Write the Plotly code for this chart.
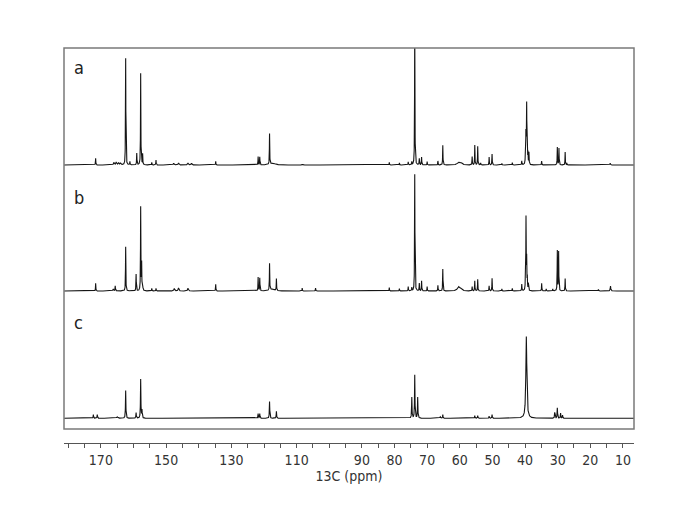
import numpy as np
import plotly.graph_objects as go

# ---- data: 13C NMR peak tables (ppm, relative intensity, linewidth ppm)
A_PPM = [171.6, 166.0, 165.3, 164.6, 164.0, 162.4, 161.1, 159.0, 157.8, 157.2, 154.4, 153.1,
         147.7, 146.2, 143.3, 142.2, 134.8, 121.8, 121.3, 118.3, 117.3, 108.3,
         81.6, 78.5, 75.8, 74.7, 73.8, 72.4, 71.7, 70.0, 66.7, 65.2, 60.4, 59.6, 56.2, 55.4,
         54.5, 53.6, 51.0, 50.1, 47.1, 43.9, 41.0, 39.9, 39.7, 39.5, 39.3, 39.1, 38.8,
         34.9, 30.1, 29.6, 27.7, 27.2, 13.9]
A_INT = [6.7, 2.5, 2.7, 2.2, 2.0, 106.7, 3.3, 11.7, 91.7, 10.7, 2.7, 5.0,
         1.8, 2.0, 2.0, 1.8, 3.7, 8.3, 8.0, 30.7, 2.0, 1.0,
         2.7, 2.0, 3.0, 3.0, 140.0, 6.3, 7.7, 3.3, 4.0, 19.7, 2.5, 2.0, 8.3, 19.7,
         18.7, 2.0, 8.0, 11.0, 1.5, 2.3, 4.0, 8.0, 45.0, 58.0, 16.0, 11.0, 12.0,
         4.0, 17.7, 16.7, 13.0, 2.0, 1.7]
A_WID = [0.12, 0.3, 0.3, 0.3, 0.3, 0.12, 0.12, 0.12, 0.12, 0.12, 0.12, 0.12,
         0.3, 0.3, 0.3, 0.3, 0.12, 0.12, 0.12, 0.12, 1.5, 0.3,
         0.12, 0.12, 0.12, 0.12, 0.12, 0.12, 0.12, 0.12, 0.12, 0.12, 0.8, 0.8, 0.12, 0.12,
         0.12, 0.12, 0.12, 0.12, 0.12, 0.12, 0.12, 0.12, 0.12, 0.12, 0.12, 0.12, 0.12,
         0.12, 0.12, 0.12, 0.12, 0.12, 0.2]

B_PPM = [171.6, 166.2, 165.6, 162.4, 159.2, 157.8, 157.5, 157.2, 154.4, 153.1, 147.5, 146.2,
         143.3, 134.8, 121.8, 121.3, 118.3, 117.5, 116.2, 108.3, 104.2,
         81.6, 78.5, 75.8, 74.7, 73.8, 72.4, 71.7, 70.0, 66.7, 65.2, 60.4, 59.6, 56.2, 55.4,
         54.5, 51.0, 50.1, 47.1, 43.9, 41.0, 39.9, 39.7, 39.5, 39.3, 39.0,
         34.9, 33.5, 31.5, 30.1, 29.7, 27.7, 17.5, 13.8]
B_INT = [7.7, 2.0, 5.0, 44.3, 16.7, 83.7, 27.0, 7.7, 2.7, 2.7, 2.5, 3.0,
         2.7, 6.7, 13.7, 13.0, 26.7, 2.0, 12.0, 3.0, 3.0,
         3.3, 2.3, 4.3, 3.3, 116.7, 7.7, 10.0, 4.3, 5.7, 22.0, 4.0, 2.0, 4.3, 10.0,
         11.7, 5.0, 12.7, 2.0, 2.7, 6.7, 8.0, 72.0, 30.0, 12.0, 7.0,
         7.7, 2.0, 2.0, 40.0, 39.0, 12.3, 1.5, 5.0]
B_WID = [0.12, 0.3, 0.12, 0.12, 0.12, 0.12, 0.12, 0.12, 0.12, 0.12, 0.3, 0.3,
         0.3, 0.12, 0.12, 0.12, 0.12, 1.5, 0.12, 0.12, 0.12,
         0.12, 0.12, 0.12, 0.12, 0.12, 0.12, 0.12, 0.12, 0.12, 0.12, 0.8, 0.8, 0.12, 0.12,
         0.12, 0.12, 0.12, 0.12, 0.12, 0.12, 0.12, 0.12, 0.12, 0.12, 0.12,
         0.12, 0.12, 0.12, 0.12, 0.12, 0.12, 0.2, 0.2]

C_PPM = [172.3, 171.1, 165.0, 162.4, 159.2, 157.8, 157.4, 121.8, 121.3, 118.3, 116.2,
         74.7, 73.8, 72.9, 66.0, 65.2, 55.4, 54.5, 51.0, 50.1, 39.6,
         30.9, 30.1, 29.1, 28.5]
C_INT = [3.7, 3.7, 1.5, 27.7, 5.7, 39.0, 8.0, 4.7, 4.5, 16.7, 7.0,
         21.0, 43.3, 21.0, 1.5, 3.7, 2.7, 2.7, 2.0, 3.7, 81.7,
         5.7, 10.3, 5.0, 3.0]
C_WID = [0.15, 0.15, 0.5, 0.15, 0.15, 0.15, 0.15, 0.15, 0.15, 0.15, 0.15,
         0.15, 0.15, 0.15, 0.3, 0.15, 0.15, 0.15, 0.15, 0.15, 0.35,
         0.15, 0.15, 0.15, 0.15]

PANEL_LABELS = ["a", "b", "c"]
TICK_VALUES = list(range(10, 181, 5))
TICK_LABELS = ["170", "150", "130", "110", "90", "80", "70", "60", "50", "40", "30", "20", "10"]
X_TITLE = "13C (ppm)"

# ---- layout constants (pixels above the axis line)
X_RANGE = [181.3, 6.6]
Y_SPAN = 395
OFFSETS = [278, 152, 24.7]
BOX_BOTTOM = 14
LABEL_Y = [376, 246, 121]

grid = np.arange(X_RANGE[1], X_RANGE[0], 0.02)


def spectrum(ppm, inten, wid):
    x = np.unique(np.concatenate([grid, np.array(ppm)]))
    y = np.zeros_like(x)
    for p, h, w in zip(ppm, inten, wid):
        y += h / (1.0 + ((x - p) / (w / 2.0)) ** 2)
    return x[::-1], y[::-1]


fig = go.Figure()
for (ppm, inten, wid), off in zip([(A_PPM, A_INT, A_WID), (B_PPM, B_INT, B_WID),
                                   (C_PPM, C_INT, C_WID)], OFFSETS):
    x, y = spectrum(ppm, inten, wid)
    fig.add_trace(go.Scatter(x=np.round(x, 3), y=np.round(y + off, 2), mode="lines",
                             line=dict(color="#151515", width=1.1), hoverinfo="skip",
                             showlegend=False))

ticktext = [str(v) if str(v) in TICK_LABELS else "" for v in TICK_VALUES]

font_family = "Liberation Sans Narrow, DejaVu Sans Condensed, Arial Narrow, Liberation Sans, sans-serif"

fig.update_layout(
    width=694, height=521,
    margin=dict(l=56, r=68, t=40, b=86),
    paper_bgcolor="white", plot_bgcolor="white",
    font=dict(family=font_family, size=14, color="#333333"),
    xaxis=dict(range=X_RANGE, showgrid=False, zeroline=False, showline=True,
               linecolor="#555555", linewidth=1.2, ticks="outside", ticklen=4,
               tickcolor="#555555", tickwidth=1, tickvals=TICK_VALUES, ticktext=ticktext,
               tickfont=dict(family=font_family, size=14, color="#333333"),
               title=dict(text=X_TITLE, standoff=2,
                          font=dict(family=font_family, size=14, color="#333333"))),
    yaxis=dict(range=[0, Y_SPAN], visible=False, showgrid=False, zeroline=False),
    shapes=[dict(type="rect", xref="paper", yref="paper", x0=0, x1=1,
                 y0=BOX_BOTTOM / Y_SPAN, y1=1, line=dict(color="#7a7a7a", width=1.5))],
)

for lab, ly in zip(PANEL_LABELS, LABEL_Y):
    fig.add_annotation(x=0.0135, xref="paper", y=ly, yref="y", text=lab, showarrow=False,
                       xanchor="left", yanchor="middle",
                       font=dict(family=font_family, size=18, color="#222222"))

fig.write_html("out.html")
